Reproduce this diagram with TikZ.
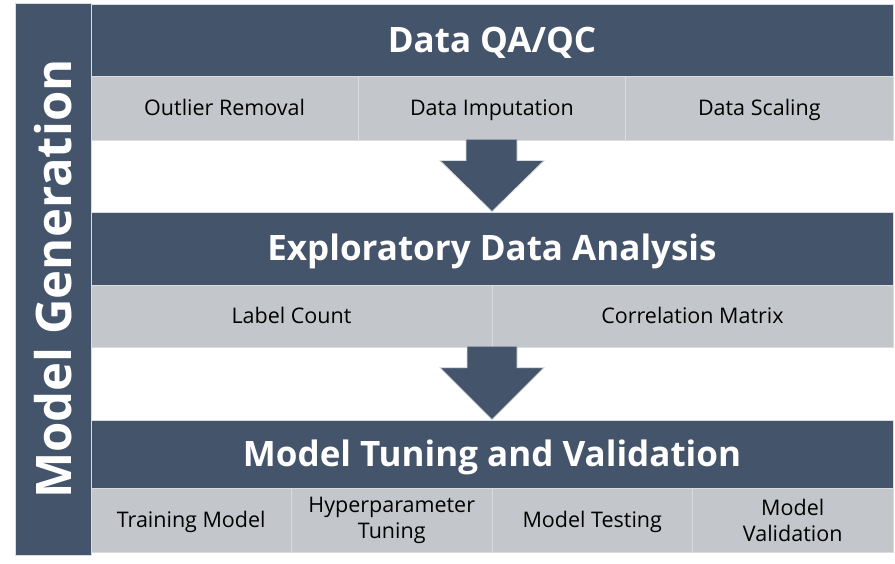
\documentclass[tikz,border=0pt]{standalone}
\usepackage{fontspec}
\setmainfont{Open Sans}
\usepackage{tikz}
\usetikzlibrary{positioning,calc}

\definecolor{slate}{HTML}{44546A}
\definecolor{cellgrey}{HTML}{C3C6CA}
\definecolor{edgegrey}{HTML}{DADDE0}

\begin{document}
\begin{tikzpicture}[x=1pt,y=-1pt,
	sidenode/.style={rectangle,fill=slate,draw=edgegrey,line width=0.8pt,text=white,font=\bfseries\fontsize{49}{49}\selectfont,inner sep=0pt},
	headnode/.style={rectangle,fill=slate,draw=edgegrey,line width=0.8pt,text=white,font=\bfseries\fontsize{35}{36}\selectfont,minimum width=802,inner sep=0pt,text height=25pt,text depth=0pt},
	twocell/.style={rectangle,fill=cellgrey,draw=edgegrey,line width=0.8pt,text=black,font=\fontsize{21.5}{26}\selectfont,align=center,inner sep=0pt,minimum height=64},
	cellnode/.style={twocell,text height=15.4pt,text depth=0pt},
	blockarrow/.style={fill=slate,draw=edgegrey,line width=0.8pt,line join=miter}]

	\useasboundingbox (0,0) rectangle (895,564);

	\node [sidenode,minimum width=552,minimum height=76,rotate=90] (side) at (53,279) {Model Generation};

	% Data QA/QC
	\node [headnode,minimum height=72] (qa) at (492,40) {Data QA/QC};
	\node [cellnode,minimum width=267.33] (qa1) at (224.67,108) {Outlier Removal};
	\node [cellnode,minimum width=267.33] (qa2) at (492,108) {Data Imputation};
	\node [cellnode,minimum width=267.33] (qa3) at (759.33,108) {Data Scaling};

	% Exploratory Data Analysis
	\node [headnode,minimum height=73] (eda) at (492,248.5) {Exploratory Data Analysis};
	\node [cellnode,minimum width=401,minimum height=62] (eda1) at (291.5,316) {Label Count};
	\node [cellnode,minimum width=401,minimum height=62] (eda2) at (692.5,316) {Correlation Matrix};

	% Model Tuning and Validation
	\node [headnode,minimum height=68] (mtv) at (492,454) {Model Tuning and Validation};
	\node [cellnode,minimum width=200.5] (mtv1) at (191.25,520) {Training Model};
	\node [twocell,minimum width=200.5] (mtv2) at (391.75,520) {Hyperparameter\\Tuning};
	\node [cellnode,minimum width=200.5] (mtv3) at (592.25,520) {Model Testing};
	\node [twocell,minimum width=200.5] (mtv4) at (792.75,520) {Model\\Validation};

	% block arrows
	\coordinate (tip1) at (eda.north);
	\coordinate (tip2) at (mtv.north);
	\draw [blockarrow] ($(tip1)+(-26,-72)$) -- ($(tip1)+(-26,-51)$) -- ($(tip1)+(-52,-51)$) -- (tip1)
		-- ($(tip1)+(52,-51)$) -- ($(tip1)+(25,-51)$) -- ($(tip1)+(25,-72)$);
	\draw [blockarrow] ($(tip2)+(-25,-73)$) -- ($(tip2)+(-25,-52)$) -- ($(tip2)+(-52,-52)$) -- (tip2)
		-- ($(tip2)+(52,-52)$) -- ($(tip2)+(25,-52)$) -- ($(tip2)+(25,-73)$);
\end{tikzpicture}
\end{document}
